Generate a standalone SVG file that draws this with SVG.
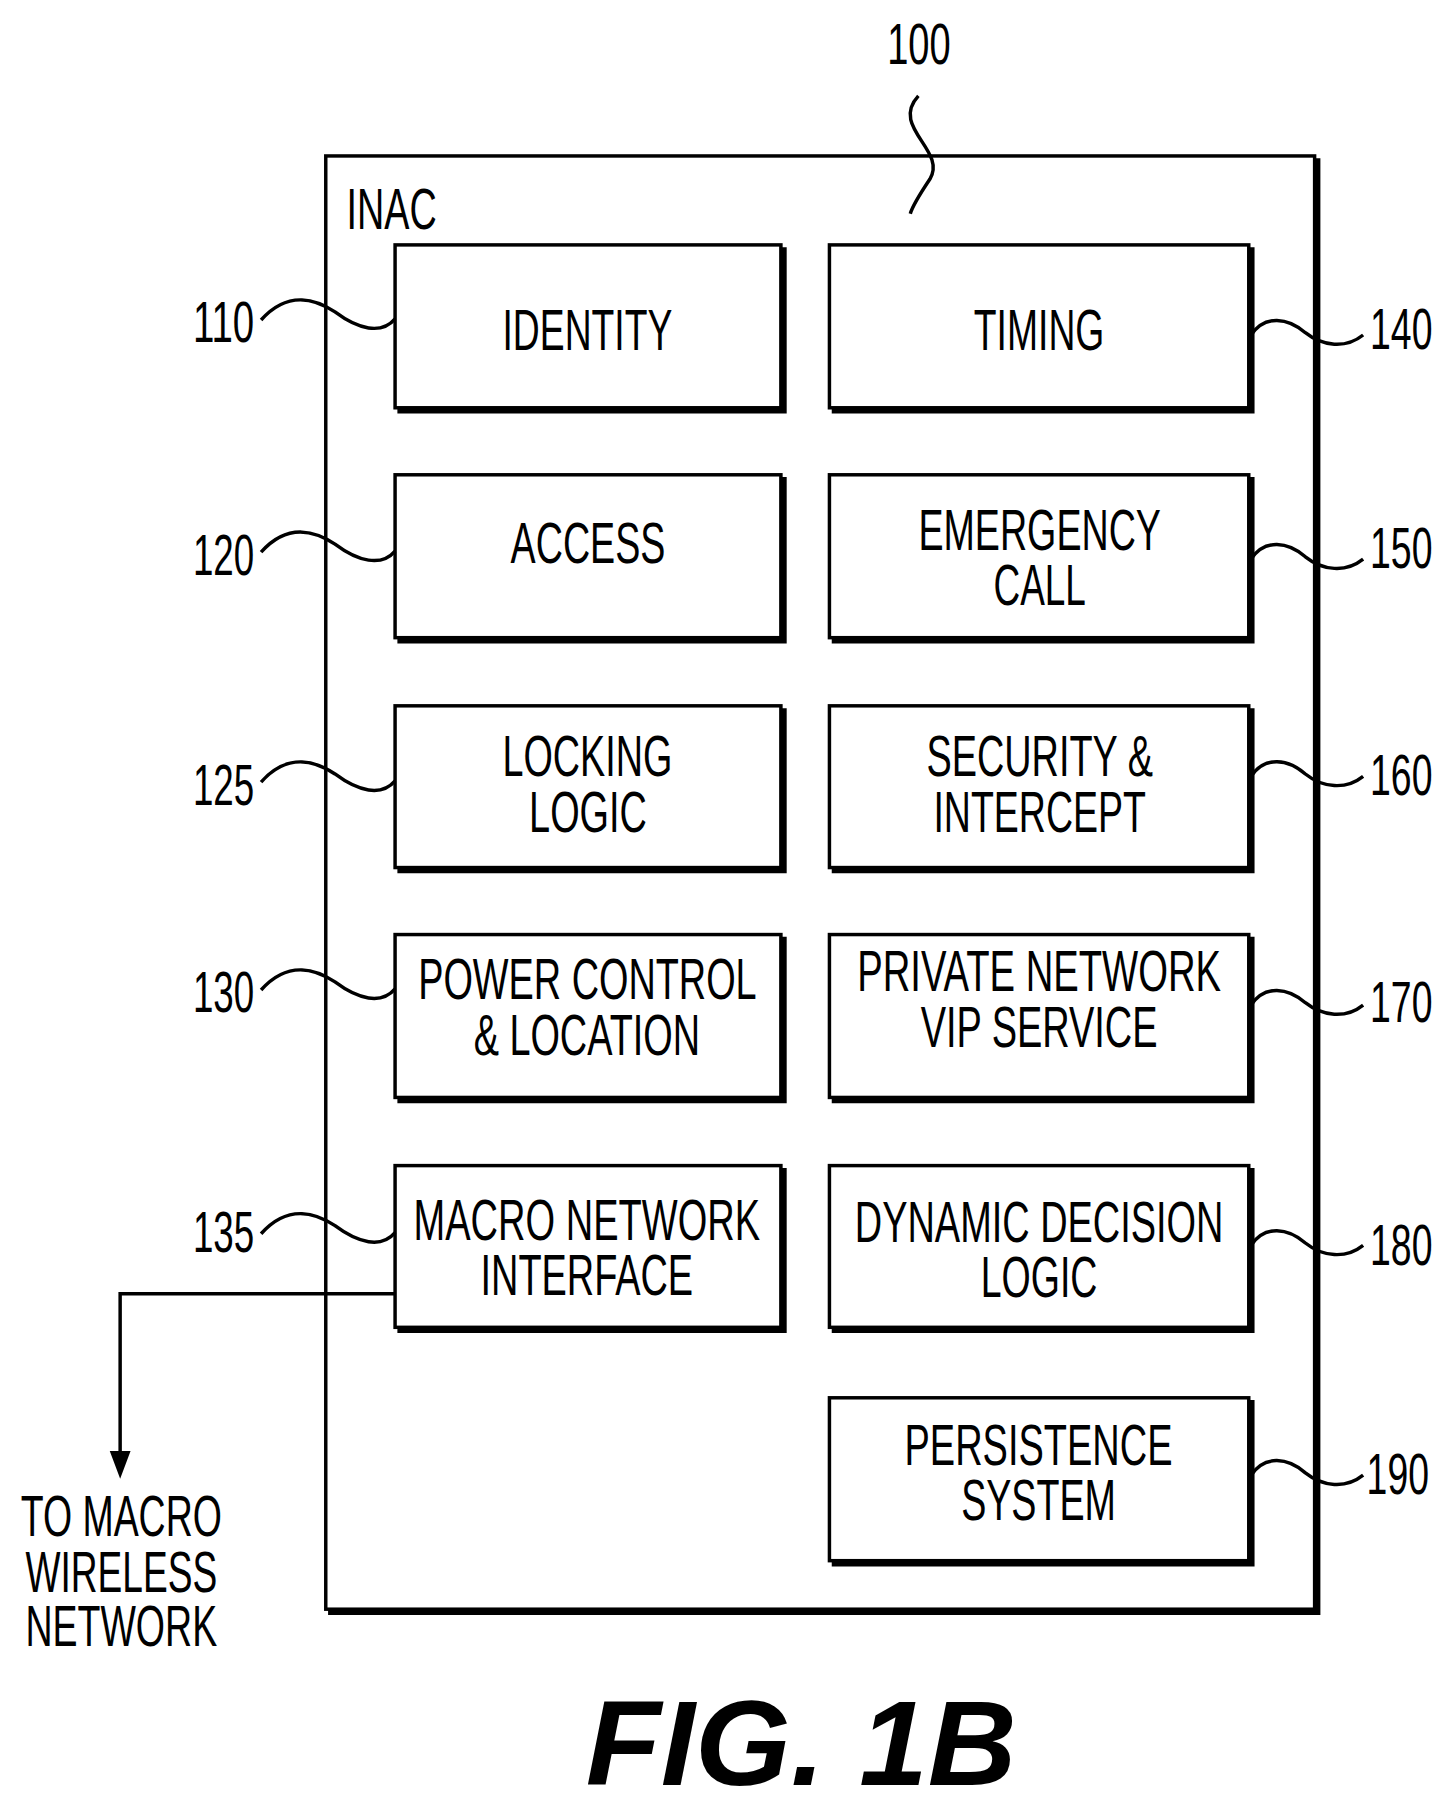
<svg xmlns="http://www.w3.org/2000/svg" width="1444" height="1804" viewBox="0 0 1444 1804">
<style>
.t{font-family:"Liberation Sans",Arial,sans-serif;font-size:50px;fill:#000}
.b{fill:#fff;stroke:#000;stroke-width:3}
.s{fill:none;stroke:#000;stroke-width:3}
.sh{fill:none;stroke:#000;stroke-width:6}
</style>
<defs><marker id="ah" markerWidth="18" markerHeight="24" refX="9" refY="2" orient="auto-start-reverse" markerUnits="userSpaceOnUse" viewBox="0 0 18 24"><path d="M0,0 L18,0 L9,24z"/></marker></defs>
<rect width="1444" height="1804" fill="#fff"/>
<g transform="scale(1.1552)">
<g id="inac">
<rect x="282" y="135" width="856" height="1258" class="b"/>
<path d="M1140,137 V1395 H284" class="sh" stroke-width="4"/>
<text class="t" x="300" y="198" textLength="78" lengthAdjust="spacingAndGlyphs">INAC</text>
</g>
<g id="n100"><text class="t" x="768" y="55" textLength="55" lengthAdjust="spacingAndGlyphs">100</text><path d="M795,83 C770,110 820,130 805,155 C795,170 790,178 788,185" class="s"/></g>
<g id="boxes">
<g id="n110"><rect x="342" y="212" width="334" height="141" class="b"/><path d="M678,214 V355 H344" class="sh"/><text class="t" x="435" y="303" textLength="147" lengthAdjust="spacingAndGlyphs">IDENTITY</text></g>
<g id="n140"><rect x="718" y="212" width="363" height="141" class="b"/><path d="M1083,214 V355 H720" class="sh"/><text class="t" x="843" y="303" textLength="113" lengthAdjust="spacingAndGlyphs">TIMING</text></g>
<g id="n120"><rect x="342" y="411" width="334" height="141" class="b"/><path d="M678,413 V554 H344" class="sh"/><text class="t" x="442" y="487" textLength="134" lengthAdjust="spacingAndGlyphs">ACCESS</text></g>
<g id="n150"><rect x="718" y="411" width="363" height="141" class="b"/><path d="M1083,413 V554 H720" class="sh"/><text class="t" x="795" y="476" textLength="210" lengthAdjust="spacingAndGlyphs">EMERGENCY</text><text class="t" x="860" y="524" textLength="80" lengthAdjust="spacingAndGlyphs">CALL</text></g>
<g id="n125"><rect x="342" y="611" width="334" height="140" class="b"/><path d="M678,613 V753 H344" class="sh"/><text class="t" x="435" y="672" textLength="147" lengthAdjust="spacingAndGlyphs">LOCKING</text><text class="t" x="458" y="720" textLength="102" lengthAdjust="spacingAndGlyphs">LOGIC</text></g>
<g id="n160"><rect x="718" y="611" width="363" height="140" class="b"/><path d="M1083,613 V753 H720" class="sh"/><text class="t" x="802" y="672" textLength="196" lengthAdjust="spacingAndGlyphs">SECURITY &amp;</text><text class="t" x="808" y="720" textLength="184" lengthAdjust="spacingAndGlyphs">INTERCEPT</text></g>
<g id="n130"><rect x="342" y="809" width="334" height="141" class="b"/><path d="M678,811 V952 H344" class="sh"/><text class="t" x="362" y="865" textLength="293" lengthAdjust="spacingAndGlyphs">POWER CONTROL</text><text class="t" x="410" y="913" textLength="196" lengthAdjust="spacingAndGlyphs">&amp; LOCATION</text></g>
<g id="n170"><rect x="718" y="809" width="363" height="141" class="b"/><path d="M1083,811 V952 H720" class="sh"/><text class="t" x="742" y="858" textLength="315" lengthAdjust="spacingAndGlyphs">PRIVATE NETWORK</text><text class="t" x="797" y="906" textLength="205" lengthAdjust="spacingAndGlyphs">VIP SERVICE</text></g>
<g id="n135"><rect x="342" y="1009" width="334" height="140" class="b"/><path d="M678,1011 V1151 H344" class="sh"/><text class="t" x="358" y="1073" textLength="300" lengthAdjust="spacingAndGlyphs">MACRO NETWORK</text><text class="t" x="416" y="1121" textLength="184" lengthAdjust="spacingAndGlyphs">INTERFACE</text></g>
<g id="n180"><rect x="718" y="1009" width="363" height="140" class="b"/><path d="M1083,1011 V1151 H720" class="sh"/><text class="t" x="740" y="1075" textLength="319" lengthAdjust="spacingAndGlyphs">DYNAMIC DECISION</text><text class="t" x="849" y="1123" textLength="101" lengthAdjust="spacingAndGlyphs">LOGIC</text></g>
<g id="n190"><rect x="718" y="1210" width="363" height="141" class="b"/><path d="M1083,1212 V1353 H720" class="sh"/><text class="t" x="783" y="1268" textLength="232" lengthAdjust="spacingAndGlyphs">PERSISTENCE</text><text class="t" x="832" y="1316" textLength="134" lengthAdjust="spacingAndGlyphs">SYSTEM</text></g>
</g>
<g id="refs">
<text class="t" x="167" y="296" textLength="53" lengthAdjust="spacingAndGlyphs">110</text>
<text class="t" x="167" y="498" textLength="53" lengthAdjust="spacingAndGlyphs">120</text>
<text class="t" x="167" y="697" textLength="53" lengthAdjust="spacingAndGlyphs">125</text>
<text class="t" x="167" y="876" textLength="53" lengthAdjust="spacingAndGlyphs">130</text>
<text class="t" x="167" y="1084" textLength="53" lengthAdjust="spacingAndGlyphs">135</text>
<text class="t" x="1186" y="302" textLength="54" lengthAdjust="spacingAndGlyphs">140</text>
<text class="t" x="1186" y="492" textLength="54" lengthAdjust="spacingAndGlyphs">150</text>
<text class="t" x="1186" y="688" textLength="54" lengthAdjust="spacingAndGlyphs">160</text>
<text class="t" x="1186" y="885" textLength="54" lengthAdjust="spacingAndGlyphs">170</text>
<text class="t" x="1186" y="1095" textLength="54" lengthAdjust="spacingAndGlyphs">180</text>
<text class="t" x="1183" y="1293" textLength="54" lengthAdjust="spacingAndGlyphs">190</text>
</g>
<g id="connectors">
<path d="M226,277 C250,250 275,260 290,270 C310,285 330,290 342,276" class="s"/>
<path d="M226,478 C250,451 275,461 290,471 C310,486 330,491 342,477" class="s"/>
<path d="M226,677 C250,650 275,660 290,670 C310,685 330,690 342,676" class="s"/>
<path d="M226,857 C250,830 275,840 290,850 C310,865 330,870 342,856" class="s"/>
<path d="M226,1068 C250,1041 275,1051 290,1061 C310,1076 330,1081 342,1067" class="s"/>
<path d="M1083,290 C1095,272 1115,275 1130,288 C1145,300 1165,302 1180,290" class="s"/>
<path d="M1083,484 C1095,466 1115,469 1130,482 C1145,494 1165,496 1180,484" class="s"/>
<path d="M1083,672 C1095,654 1115,657 1130,670 C1145,682 1165,684 1180,672" class="s"/>
<path d="M1083,870 C1095,852 1115,855 1130,868 C1145,880 1165,882 1180,870" class="s"/>
<path d="M1083,1078 C1095,1060 1115,1063 1130,1076 C1145,1088 1165,1090 1180,1078" class="s"/>
<path d="M1083,1277 C1095,1259 1115,1262 1130,1275 C1145,1287 1165,1289 1180,1277" class="s"/>
<path d="M342,1120 H104 V1258" class="s"/>
<path d="M95,1256 L113,1256 L104,1280z" fill="#000"/>
</g>
<g id="ext">
<text class="t" x="18" y="1330" textLength="174" lengthAdjust="spacingAndGlyphs">TO MACRO</text>
<text class="t" x="22" y="1378" textLength="166" lengthAdjust="spacingAndGlyphs">WIRELESS</text>
<text class="t" x="22" y="1425" textLength="166" lengthAdjust="spacingAndGlyphs">NETWORK</text>
</g>
<text x="507" y="1545" style="font-family:'Liberation Sans',Arial,sans-serif;font-size:104px;font-weight:bold;font-style:italic" textLength="373" lengthAdjust="spacingAndGlyphs">FIG. 1B</text>
</g>
</svg>
